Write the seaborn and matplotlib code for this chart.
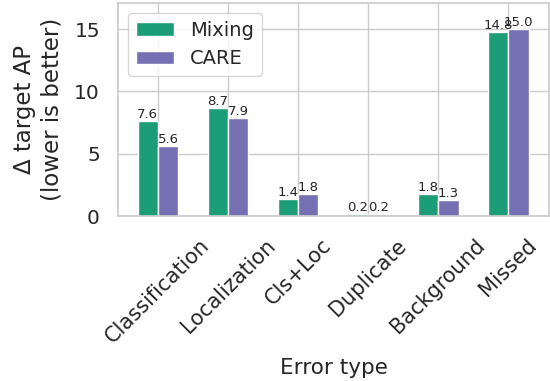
import matplotlib
matplotlib.use("Agg")
import matplotlib.pyplot as plt
import seaborn as sns
import pandas as pd

categories = ["Classification", "Localization", "Cls+Loc", "Duplicate", "Background", "Missed"]
mixing = [7.6, 8.7, 1.4, 0.2, 1.8, 14.8]
care = [5.6, 7.9, 1.8, 0.2, 1.3, 15.0]
methods = ["Mixing", "CARE"]
colors = ["#1b9e77", "#7570b3"]

df = pd.DataFrame({
    "Error type": categories * 2,
    "value": mixing + care,
    "method": [methods[0]] * len(categories) + [methods[1]] * len(categories),
})

sns.set_theme(style="whitegrid")
plt.rcParams["font.family"] = ["DejaVu Sans"]

fig, ax = plt.subplots(figsize=(5.5, 3.81), dpi=100)
fig.subplots_adjust(left=118 / 550, right=549 / 550, top=1 - 3 / 381, bottom=1 - 216 / 381)

sns.barplot(data=df, x="Error type", y="value", hue="method", palette=colors,
            width=0.58, gap=0.0, saturation=1, ax=ax)

for cont in ax.containers:
    ax.bar_label(cont, fmt="%.1f", fontsize=9.5, padding=0)

ax.grid(True, axis="both")
ax.set_axisbelow(True)
ax.set_xlim(-0.57, 5.58)
ax.set_ylim(0, 17.1)
ax.set_yticks([0, 5, 10, 15])
ax.tick_params(axis="y", labelsize=14.5, pad=7)
ax.tick_params(axis="x", labelsize=15, pad=8)
plt.setp(ax.get_xticklabels(), rotation=45, ha="center")
ax.set_ylabel("\u0394 target AP\n(lower is better)", fontsize=16.5, labelpad=8)
ax.set_xlabel("Error type", fontsize=15.5, labelpad=8)
ax.legend(loc="upper left", fontsize=14, frameon=True)

fig.savefig("out.png", dpi=100)
